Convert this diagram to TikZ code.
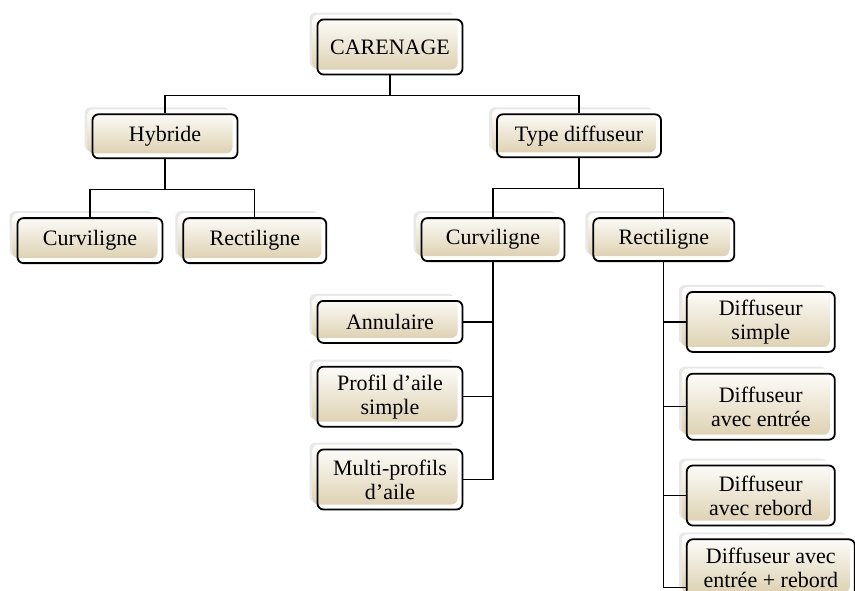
\documentclass[tikz,border=0pt]{standalone}
\usepackage{fontspec}
\setmainfont{Liberation Serif}
\usepackage{xcolor}
\usepackage{tikz}
\usetikzlibrary{shapes,shadows,positioning}

\definecolor{beige}{RGB}{222,210,178}

\begin{document}
\begin{tikzpicture}[
    box/.style={rectangle, draw, line width=1.8pt, rounded corners=6pt,
        minimum width=145pt, minimum height=44pt, align=center, inner sep=2pt,
        font=\fontsize{22}{24}\selectfont,
        general shadow={shadow xshift=-8pt, shadow yshift=7pt, fill=gray!18},
        general shadow={shadow xshift=-5pt, shadow yshift=5pt, top color=white, bottom color=beige}},
    link/.style={line width=1.3pt}
]
\useasboundingbox (0,0) rectangle (855pt,-590pt);
% tree of the carenage types
\node[box, minimum height=55pt] (carenage) at (390pt,-47pt) {CARENAGE};
\node[box, below=38pt of carenage, xshift=-225pt] (hybride) {Hybride};
\node[box, below=38pt of carenage, xshift=189pt, minimum width=164pt, minimum height=43pt] (typediff) {Type diffuseur};
\node[box, below=58pt of hybride, xshift=-75pt, minimum height=45pt] (hcurv) {Curviligne};
\node[box, right=19pt of hcurv, minimum width=143pt, minimum height=45pt] (hrect) {Rectiligne};
\node[box, below=59pt of typediff, xshift=-86pt, minimum width=143pt, minimum height=43pt] (tcurv) {Curviligne};
\node[box, right=27pt of tcurv, minimum width=141pt, minimum height=43pt] (trect) {Rectiligne};
\node[box, below=38pt of tcurv, xshift=-103pt, minimum height=42pt] (annul) {Annulaire};
\node[box, below=22pt of annul, minimum height=60pt] (profil) {Profil d'aile\\simple};
\node[box, below=21pt of profil, minimum height=60pt] (multi) {Multi-profils\\d'aile};
\node[box, below=29pt of trect, xshift=97pt, minimum width=148pt, minimum height=60pt] (dsimple) {Diffuseur\\simple};
\node[box, below=20pt of dsimple, minimum width=148pt, minimum height=66pt] (dentree) {Diffuseur\\avec entrée};
\node[box, below=24pt of dentree, minimum width=148pt, minimum height=60pt] (drebord) {Diffuseur\\avec rebord};
\node[box, below=12pt of drebord, xshift=10pt, minimum width=168pt, minimum height=58pt] (dentreb) {Diffuseur avec\\entrée + rebord};

\draw[link] (carenage.south) -- ++(0,-20pt) -| (hybride.north);
\draw[link] (carenage.south) -- ++(0,-20pt) -| (typediff.north);
\draw[link] (hybride.south) -- ++(0,-30pt) -| (hcurv.north);
\draw[link] (hybride.south) -- ++(0,-30pt) -| (hrect.north);
\draw[link] (typediff.south) -- ++(0,-30pt) -| (tcurv.north);
\draw[link] (typediff.south) -- ++(0,-30pt) -| (trect.north);
\draw[link] (tcurv.south) |- (annul.east);
\draw[link] (tcurv.south) |- (profil.east);
\draw[link] (tcurv.south) |- (multi.east);
\draw[link] (trect.south) |- (dsimple.west);
\draw[link] (trect.south) |- (dentree.west);
\draw[link] (trect.south) |- (drebord.west);
\draw[link] (trect.south) |- ([yshift=-19pt]dentreb.west);
\end{tikzpicture}
\end{document}
